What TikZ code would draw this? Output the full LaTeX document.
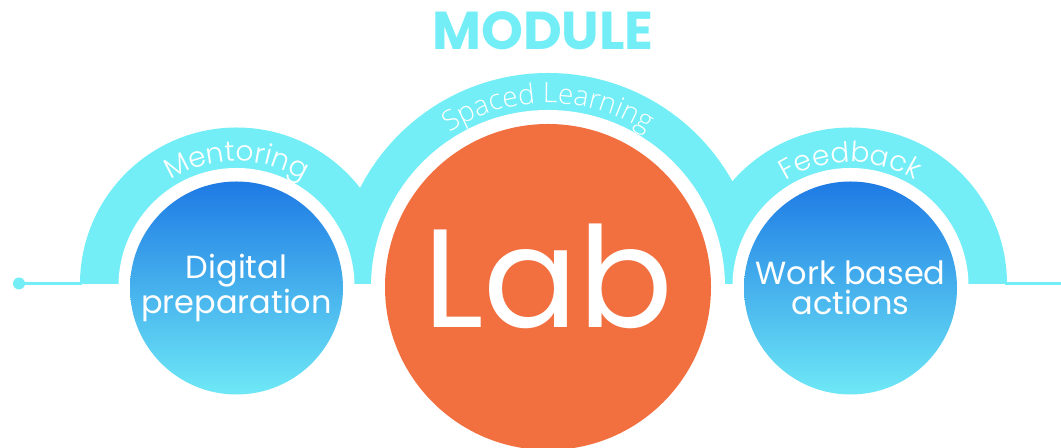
\documentclass[tikz,border=0pt]{standalone}
\usepackage{fontspec}
\setmainfont{Poppins}
\IfFontExistsTF{Open Sans Light}{\newfontfamily\learnfont{Open Sans Light}}{\newfontfamily\learnfont{Open Sans}}
\IfFontExistsTF{Poppins Light}{\newfontfamily\arcfont{Poppins Light}}{\newfontfamily\arcfont{Poppins}}
\usetikzlibrary{calc, decorations.text}

\definecolor{bandcyan}{RGB}{115,238,247}
\definecolor{laborange}{RGB}{242,112,64}
\definecolor{disctop}{RGB}{30,122,228}
\definecolor{discbottom}{RGB}{110,232,246}

\tikzset{
  band/.style={fill=bandcyan},
  baseconn/.style={draw=bandcyan, line width=2.25pt},
  stepdisc/.style={circle, inner sep=0pt, minimum size=159.75pt, top color=disctop, bottom color=discbottom,
    text=white, align=center, font=\fontsize{24}{22.5}\selectfont},
  labdisc/.style={circle, inner sep=0pt, minimum size=244.5pt, fill=laborange},
  labword/.style={text=white, inner sep=0pt, font=\fontsize{105}{115}\selectfont},
  arctext/.style={decorate, decoration={text along path, text align=center, text color=white}},
}

\begin{document}
\begin{tikzpicture}[x=0.75pt, y=0.75pt]
  \useasboundingbox (0,0) rectangle (1061,448);

  \coordinate (mentorbase) at (236.5,164);
  \coordinate (spacedbase) at (548,164);
  \coordinate (feedbase) at (850.5,164);
  \coordinate (digitalc) at (236.5,160);
  \coordinate (labc) at (548,161);
  \coordinate (workc) at (850.5,160);

  \fill [band] ($(mentorbase)+(180:156.5)$) arc [start angle=180, end angle=0, radius=156.5] -- cycle; % Draws a half disc
  \fill [band] ($(spacedbase)+(180:211)$) arc [start angle=180, end angle=0, radius=211] -- cycle; % Draws a half disc
  \fill [band] ($(feedbase)+(180:156.5)$) arc [start angle=180, end angle=0, radius=156.5] -- cycle; % Draws a half disc

  \coordinate (dot) at (19,164.5);
  \coordinate (leftend) at (82,164.5);
  \coordinate (rightend) at (1005,164.5);
  \coordinate (edge) at (1061,164.5);
  \draw [baseconn] (dot) -- (leftend);
  \draw [baseconn] (rightend) -- (edge);
  \fill [bandcyan] (dot) circle (6);

  \fill [white] (digitalc) ++(0,2) circle (118); % white gap
  \fill [white] (labc) circle (177);
  \fill [white] (workc) ++(0,2) circle (118);

  \node [stepdisc] (digital) at (digitalc) {Digital\\preparation};
  \node [labdisc] (lab) at (labc) {};
  \node [stepdisc] (work) at (workc) {Work based\\actions};
  \node [labword, anchor=base] (labtext) at (548,120) {Lab};

  \path [arctext, decoration={text={|\arcfont\fontsize{21}{25}\selectfont|Mentoring}}]
    ($(mentorbase)+(180:123)$) arc [start angle=180, end angle=0, radius=123];
  \path [arctext, decoration={text={|\learnfont\fontsize{21}{25}\selectfont|Spaced Learning}}]
    ($(spacedbase)+(180:181)$) arc [start angle=180, end angle=0, radius=181];
  \path [arctext, decoration={text={|\arcfont\fontsize{21}{25}\selectfont|Feedback}}]
    ($(feedbase)+(180:122)$) arc [start angle=180, end angle=0, radius=122];

  \node [text=bandcyan, anchor=base, inner sep=0pt, font=\fontsize{40}{48}\selectfont\bfseries] (module) at (543,398) {MODULE};
\end{tikzpicture}
\end{document}
